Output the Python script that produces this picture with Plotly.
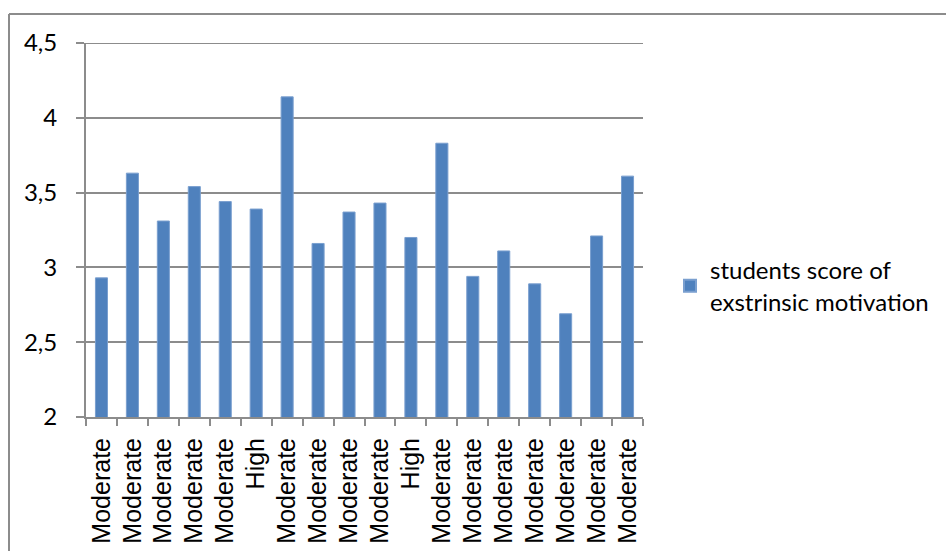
import plotly.graph_objects as go

categories = ["Moderate", "Moderate", "Moderate", "Moderate", "Moderate", "High",
              "Moderate", "Moderate", "Moderate", "Moderate", "High", "Moderate",
              "Moderate", "Moderate", "Moderate", "Moderate", "Moderate", "Moderate"]
scores = [2.93, 3.63, 3.31, 3.54, 3.44, 3.39, 4.14, 3.16, 3.37, 3.43,
          3.20, 3.83, 2.94, 3.11, 2.89, 2.69, 3.21, 3.61]
series_name = "students score of<br>exstrinsic motivation"
y_ticks = [2, 2.5, 3, 3.5, 4, 4.5]
y_tick_text = ["2", "2,5", "3", "3,5", "4", "4,5"]

positions = list(range(len(categories)))

fig = go.Figure()
fig.add_trace(go.Bar(
    x=positions, y=scores, name=series_name, width=0.39,
    marker=dict(color="#4F81BD", line=dict(color="#7A9FCF", width=1)),
    showlegend=True,
))

L, R, T, B = 86, 303, 43, 134
W, H = 946, 551
pw, ph = W - L - R, H - T - B

def px(x):
    return (x - L) / pw

def py(y):
    return (H - B - y) / ph

grey = "#8C8C8C"
fig.update_layout(
    width=W, height=H,
    margin=dict(l=L, r=R, t=T, b=B),
    paper_bgcolor="white", plot_bgcolor="white",
    xaxis=dict(
        range=[-0.5, len(categories) - 0.5],
        tickmode="array", tickvals=positions, ticktext=categories,
        tickangle=-90, ticks="", showgrid=False, automargin=False,
        showline=True, linecolor=grey, linewidth=2,
        ticklabelstandoff=9,
        tickfont=dict(family="Liberation Sans, Arial", size=25, color="black"),
        minor=dict(tick0=-0.5, dtick=1, ticks="outside", ticklen=7,
                   tickcolor=grey, tickwidth=2, showgrid=False),
        zeroline=False,
    ),
    yaxis=dict(
        range=[2, 4.5], tickmode="array", tickvals=y_ticks, ticktext=y_tick_text,
        ticks="outside", ticklen=8, tickcolor=grey, tickwidth=2,
        showgrid=True, gridcolor=grey, gridwidth=2, automargin=False,
        showline=True, linecolor=grey, linewidth=2,
        ticklabelstandoff=14,
        tickfont=dict(family="Lato, Carlito, Calibri", size=24, color="black"),
        zeroline=False,
    ),
    legend=dict(
        x=px(670), y=py(286), xanchor="left", yanchor="middle",
        font=dict(family="Lato, Carlito, Calibri", size=24, color="black"),
        bgcolor="rgba(0,0,0,0)", itemsizing="constant",
    ),
    shapes=[
        dict(type="line", xref="paper", yref="y",
             x0=0, x1=1, y0=y_ticks[-1], y1=y_ticks[-1],
             line=dict(color=grey, width=2)),
        dict(type="line", xref="paper", yref="paper",
             x0=px(9), x1=px(946), y0=py(14), y1=py(14),
             line=dict(color=grey, width=2)),
        dict(type="line", xref="paper", yref="paper",
             x0=px(9), x1=px(9), y0=py(14), y1=py(551),
             line=dict(color=grey, width=2)),
    ],
)

fig.write_html("out.html")
